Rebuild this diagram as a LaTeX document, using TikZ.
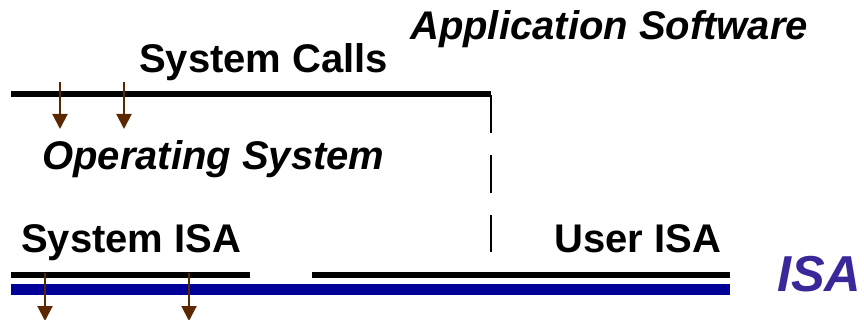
\documentclass[tikz,border=0pt]{standalone}
\usepackage{fontspec}
\setmainfont{Liberation Sans}
\usetikzlibrary{arrows.meta}
\definecolor{callbrown}{HTML}{5C2800}
\definecolor{isablue}{HTML}{000099}
\definecolor{isapurple}{HTML}{38289A}
\tikzset{
  label/.style={anchor=base west, inner sep=0pt, font=\fontsize{40}{44}\selectfont\bfseries},
  itlabel/.style={label, font=\fontsize{40}{44}\selectfont\bfseries\itshape},
  boundary/.style={line width=5.5pt, black},
  callarrow/.style={line width=2pt, callbrown, -{Triangle[width=15pt,length=15pt]}},
}
\begin{document}
\begin{tikzpicture}[x=1pt, y=-1pt]
  \clip (0,0) rectangle (864,320);
  \useasboundingbox (0,0) rectangle (864,320);

  % layer labels
  \node[itlabel] (app) at (410,40) {Application Software};
  \node[label] (calls) at (139,73) {System Calls};
  \node[itlabel] (os) at (42,170) {Operating System};
  \node[label] (sysisa) at (21,253) {System ISA};
  \node[label] (userisa) at (554,253) {User ISA};
  \node[anchor=base west, inner sep=0pt, text=isapurple,
        font=\fontsize{50.5}{54}\selectfont\bfseries\itshape] (isa) at (777,291) {ISA};

  % system call interface with dashed separation from the application side
  \coordinate (callL) at (11,94);
  \coordinate (callR) at (491,94);
  \coordinate (splitEnd) at (491,252);
  \draw[boundary] (callL) -- (callR);
  \draw[line width=2.5pt, dash pattern=on 38pt off 22pt] ([yshift=-1pt]callR) -- (splitEnd);

  % ISA boundaries
  \coordinate (sysL) at (11,275);
  \coordinate (sysR) at (250,275);
  \coordinate (userL) at (312,275);
  \coordinate (userR) at (730,275);
  \draw[boundary] (sysL) -- (sysR);
  \draw[boundary] (userL) -- (userR);
  \coordinate (isaL) at (11,289.5);
  \coordinate (isaR) at (730,289.5);
  \draw[line width=11pt, isablue] (isaL) -- (isaR);

  % calls into the operating system
  \coordinate (c1s) at (60,82);  \coordinate (c1e) at (60,129);
  \coordinate (c2s) at (124,82); \coordinate (c2e) at (124,129);
  \draw[callarrow] (c1s) -- (c1e);
  \draw[callarrow] (c2s) -- (c2e);

  % calls through the system ISA
  \coordinate (s1s) at (45,273);  \coordinate (s1e) at (45,321);
  \coordinate (s2s) at (189,273); \coordinate (s2e) at (189,321);
  \draw[callarrow] (s1s) -- (s1e);
  \draw[callarrow] (s2s) -- (s2e);
\end{tikzpicture}
\end{document}
